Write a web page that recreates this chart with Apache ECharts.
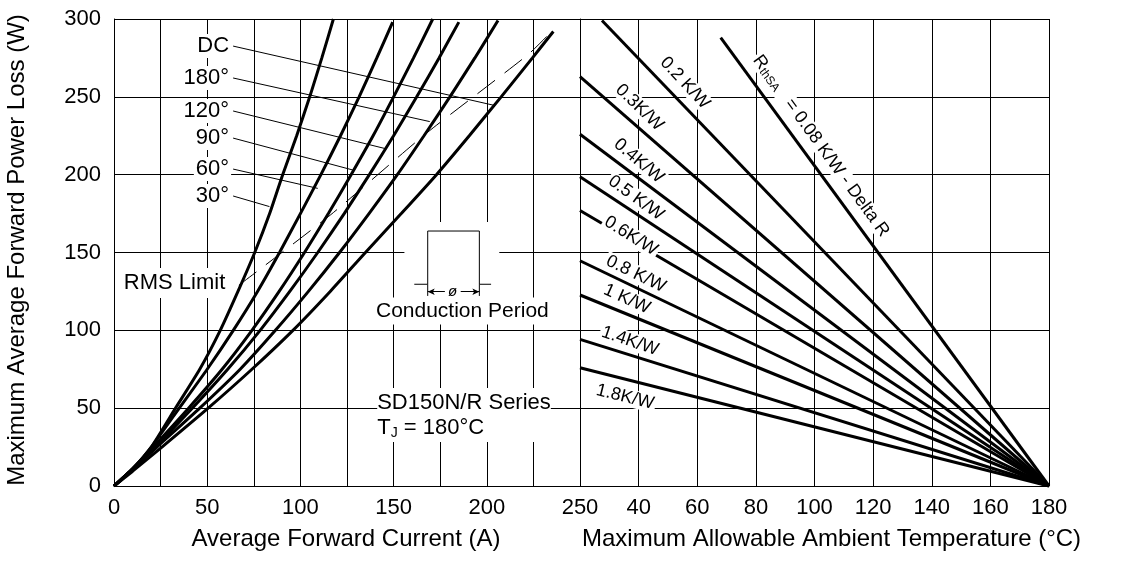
<!DOCTYPE html>
<html>
<head>
<meta charset="utf-8">
<script src="https://cdn.jsdelivr.net/npm/echarts@6/dist/echarts.min.js"></script>
<style>
html,body{margin:0;padding:0;background:#fff;}
#chart{width:1128px;height:575px;}
</style>
</head>
<body>
<div id="chart"></div>
<script>
// ---------- data ----------
const xTicksLeft = [0, 50, 100, 150, 200, 250];
const xTicksRight = [40, 60, 80, 100, 120, 140, 160, 180];
const yTicks = [0, 50, 100, 150, 200, 250, 300];

const curveNames = ['DC', '180°', '120°', '90°', '60°', '30°'];
// [average current A, power W]
const curveDC  = [[0,0],[10,9.5],[25.7,25],[50.5,50],[74,75],[96,100],[116,125],[134.9,150],[154.1,175],[173,200],[190.6,225],[207.7,250],[224.5,275],[235.7,292]];
const curve180 = [[0,0],[10,10.5],[23,25],[46,50],[67.7,75],[86.6,100],[104.3,125],[121,150],[136.8,175],[152,200],[166.3,225],[180.2,250],[193.6,275],[206,299]];
const curve120 = [[0,0],[10,11],[22,25],[42,50],[61,75],[78.4,100],[94.3,125],[109.3,150],[123.5,175],[137,200],[150,225],[162.4,250],[174.4,275],[185,298]];
const curve90  = [[0,0],[10,11],[21,25],[40,50],[58,75],[74,100],[88.6,125],[102.2,150],[115,175],[127.2,200],[139,225],[150,250],[160.7,275],[171,300]];
const curve60  = [[0,0],[10,11],[20,25],[35,50],[50,75],[64,100],[77,125],[88.8,150],[100,175],[111,200],[121.5,225],[131.5,250],[141,275],[149.5,298]];
const curve30  = [[0,0],[10,11],[20,25],[33,50],[46,75],[57,100],[66.5,125],[75.5,150],[83.5,175],[90.5,200],[98,225],[105,250],[111.5,275],[117.7,300]];
const curves = [curveDC, curve180, curve120, curve90, curve60, curve30];

const rmsLimit = [[67,129],[116,174],[168,227],[222,277],[234,291]];

// leader lines: label end -> curve
const leaderStart = [[63.9,282.6],[63.9,262.1],[63.9,240.9],[63.9,223.5],[63.9,203.6],[63.9,186.3]];
const leaderEnd   = [[204.4,244.4],[169.4,234.1],[146,216.6],[128.1,203],[109.3,191.2],[83.4,179.5]];

// heatsink thermal resistance lines: [ambient temperature °C, power W]
const rthNames = ['0.2 K/W','0.3K/W','0.4K/W','0.5 K/W','0.6K/W','0.8 K/W','1 K/W','1.4K/W','1.8K/W'];
const rthStart = [[27.5,299],[20,263],[20,226],[20,198.7],[20,177],[20,144.7],[20,122.7],[20,94.2],[20,76]];
const rthEnd = [180, 0];
const deltaRStart = [68, 288];
const rthLabelAt = [[55.8,258.9],[40.3,243.1],[40.1,208.8],[39.1,185],[37.4,160.6],[39.1,136.2],[36,120.1],[37.1,93.1],[35.4,57.2]];
const rthLabelAngle = [47,44,40,36,32,26,24,19,14];
const deltaRLabelAt = [102.2,218.4];

// conduction-period sketch (in current/power units of the left panel)
const pulseShape = [[161.1,129.6],[168.3,129.6],[168.3,163.8],[196,163.8],[196,129.6],[202.3,129.6]];
const pulseExtL = [[168.3,129.6],[168.3,122.1]];
const pulseExtR = [[196,129.6],[196,122.1]];
const pulseArrowL = [[177.5,124.8],[168.3,124.8]];
const pulseArrowR = [[186,124.8],[196,124.8]];
const pulsePhiAt = [181.7,124.8];
const insetMask = [[155.8,169.6],[206.7,119.2]];

const FONT = '"Liberation Sans", Arial, Helvetica, sans-serif';

// ---------- chart ----------
const chart = echarts.init(document.getElementById('chart'), null, {renderer:'canvas'});

const gridLine = {show:true, lineStyle:{color:'#000', width:1}, showMinLine:true, showMaxLine:true};
const series = [];

curves.forEach((c, i) => {
  series.push({type:'line', name:curveNames[i], xAxisIndex:0, yAxisIndex:0, data:c,
    showSymbol:false, smooth:0.2, silent:true, z:5,
    lineStyle:{color:'#000', width:3}});
});

leaderStart.forEach((s, i) => {
  series.push({type:'line', xAxisIndex:0, yAxisIndex:0, data:[s, leaderEnd[i]],
    showSymbol:false, silent:true, z:4, lineStyle:{color:'#000', width:1}});
});

series.push({type:'line', xAxisIndex:0, yAxisIndex:0, data:rmsLimit, showSymbol:false, silent:true, z:4,
  smooth:0.2, lineStyle:{color:'#000', width:1, type:[22,12]}});

// inset
series.push({type:'line', xAxisIndex:0, yAxisIndex:0, data:pulseShape, showSymbol:false, silent:true, z:4,
  lineStyle:{color:'#000', width:1},
  markArea:{silent:true, itemStyle:{color:'#fff'}, data:[[{coord:insetMask[0]},{coord:insetMask[1]}]]}});
[pulseExtL, pulseExtR].forEach(d => series.push({type:'line', xAxisIndex:0, yAxisIndex:0, data:d,
  showSymbol:false, silent:true, z:4, lineStyle:{color:'#000', width:1}}));
series.push({type:'line', xAxisIndex:0, yAxisIndex:0, data:[], silent:true, z:4,
  markLine:{silent:true, symbol:['none','arrow'], symbolSize:[5,7], label:{show:false},
    lineStyle:{color:'#000', width:1, type:'solid'},
    data:[[{coord:pulseArrowL[0]},{coord:pulseArrowL[1]}],[{coord:pulseArrowR[0]},{coord:pulseArrowR[1]}]]}});

// right panel lines
rthStart.forEach((s, i) => {
  series.push({type:'line', name:rthNames[i], xAxisIndex:1, yAxisIndex:1, data:[s, rthEnd],
    showSymbol:false, silent:true, z:5, lineStyle:{color:'#000', width:3}});
});
series.push({type:'line', xAxisIndex:1, yAxisIndex:1, data:[deltaRStart, rthEnd],
  showSymbol:false, silent:true, z:5, lineStyle:{color:'#000', width:3}});

// text labels (left panel)
const labelBase = {show:true, color:'#000', opacity:1, fontFamily:FONT, backgroundColor:'#fff', textBorderWidth:0};
const leftTexts = [];
curveNames.forEach((n, i) => leftTexts.push({value:leaderStart[i],
  label:Object.assign({}, labelBase, {formatter:n, position:'left', distance:2, fontSize:22, padding:[1,2,1,2]})}));
leftTexts.push({value:[32.5,130.4], label:Object.assign({}, labelBase, {formatter:'RMS Limit', position:'inside', fontSize:22, padding:[4,4,4,4]})});
leftTexts.push({value:[186.9,112.4], label:Object.assign({}, labelBase, {formatter:'Conduction Period', position:'inside', fontSize:21, padding:[3,2,3,2]})});
leftTexts.push({value:pulsePhiAt, label:Object.assign({}, labelBase, {formatter:'ø', position:'inside', fontSize:15, fontStyle:'italic', backgroundColor:'transparent'})});
leftTexts.push({value:[141.2,45.6], label:Object.assign({}, labelBase, {
  formatter:'{a|SD150N/R Series}\n{a|T}{s|J}{a| = 180°C}', position:'right', distance:0, padding:[2,0,2,0],
  rich:{a:{fontSize:22, fontFamily:FONT, color:'#000', lineHeight:25}, s:{fontSize:14, fontFamily:FONT, color:'#000', lineHeight:25, verticalAlign:'bottom'}}})});
series.push({type:'scatter', xAxisIndex:0, yAxisIndex:0, symbolSize:0, itemStyle:{color:'#000', opacity:1},
  silent:true, z:10, data:leftTexts});

// text labels (right panel)
const rightTexts = rthNames.map((n, i) => ({value:rthLabelAt[i],
  label:Object.assign({}, labelBase, {formatter:n, position:'inside', rotate:-rthLabelAngle[i], fontSize:18, padding:[0,2,0,2]})}));
rightTexts.push({value:deltaRLabelAt, label:Object.assign({}, labelBase, {
  formatter:'{a|R}{s|thSA}{a|   = 0.08 K/W - Delta R}', position:'inside', rotate:-54, padding:[0,2,0,2],
  rich:{a:{fontSize:18, fontFamily:FONT, color:'#000'}, s:{fontSize:12, fontFamily:FONT, color:'#000', padding:[6,0,0,0]}}})});
series.push({type:'scatter', xAxisIndex:1, yAxisIndex:1, symbolSize:0, itemStyle:{color:'#000', opacity:1},
  silent:true, z:10, data:rightTexts});

const option = {
  animation:false,
  backgroundColor:'#fff',
  textStyle:{fontFamily:FONT},
  grid:[
    {left:114, right:548, top:19, bottom:89},
    {left:580, right:79, top:19, bottom:89}
  ],
  xAxis:[
    {gridIndex:0, type:'value', min:0, max:250, interval:25,
      axisLine:{show:true, onZero:false, lineStyle:{color:'#000', width:1}}, axisTick:{show:false},
      splitLine:gridLine,
      axisLabel:{fontSize:22, color:'#000', margin:11, fontFamily:FONT,
        formatter:v => xTicksLeft.includes(v) ? String(v) : ''}},
    {gridIndex:1, type:'value', min:20, max:180, interval:20,
      axisLine:{show:true, onZero:false, lineStyle:{color:'#000', width:1}}, axisTick:{show:false},
      splitLine:gridLine,
      axisLabel:{fontSize:22, color:'#000', margin:11, fontFamily:FONT,
        formatter:v => xTicksRight.includes(v) ? String(v) : ''}}
  ],
  yAxis:[
    {gridIndex:0, type:'value', min:0, max:300, interval:50,
      axisLine:{show:true, onZero:false, lineStyle:{color:'#000', width:1}}, axisTick:{show:false},
      splitLine:gridLine,
      axisLabel:{fontSize:22, color:'#000', margin:13, fontFamily:FONT,
        formatter:v => yTicks.includes(v) ? String(v) : ''}},
    {gridIndex:1, type:'value', min:0, max:300, interval:50,
      axisLine:{show:true, onZero:false, lineStyle:{color:'#000', width:1}}, axisTick:{show:false},
      splitLine:gridLine, axisLabel:{show:false}}
  ],
  graphic:[
    {type:'text', x:17, y:250, rotation:Math.PI/2, silent:true,
      style:{text:'Maximum Average Forward Power Loss (W)', font:'24px ' + FONT, fill:'#000', align:'center', verticalAlign:'middle'}},
    {type:'text', x:346, y:539, silent:true,
      style:{text:'Average Forward Current (A)', font:'24px ' + FONT, fill:'#000', align:'center', verticalAlign:'middle'}},
    {type:'text', x:582, y:539, silent:true,
      style:{text:'Maximum Allowable Ambient Temperature (°C)', font:'24px ' + FONT, fill:'#000', align:'left', verticalAlign:'middle'}}
  ],
  series:series
};
chart.setOption(option);
</script>
</body>
</html>
